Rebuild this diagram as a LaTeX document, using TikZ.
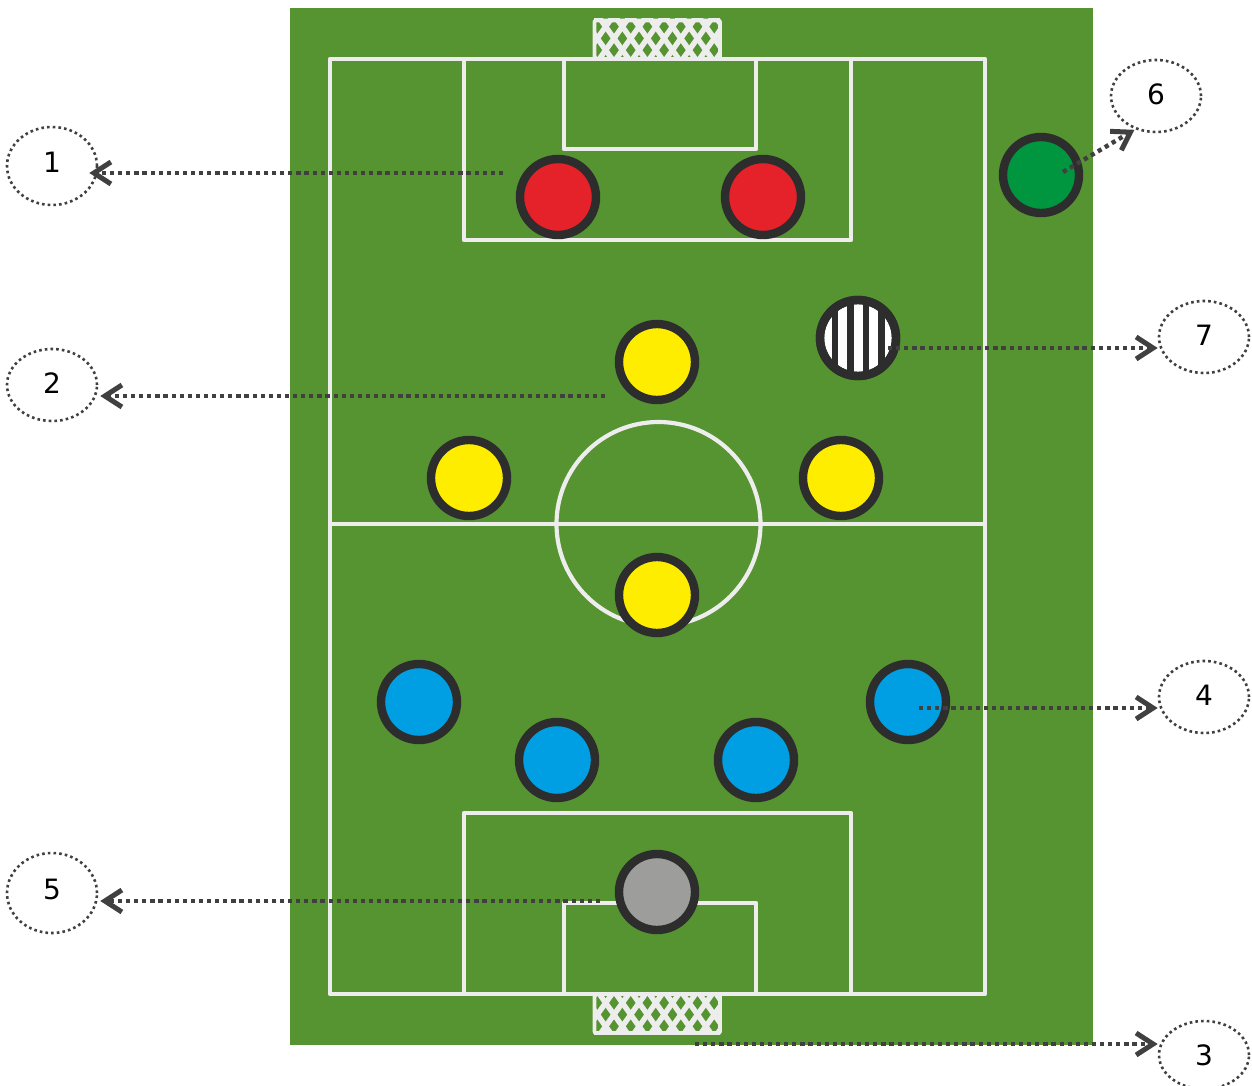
\documentclass[tikz,border=0pt]{standalone}
\usepackage{fontspec}
\setmainfont{DejaVu Sans}
\usetikzlibrary{arrows.meta,shapes.geometric}
\definecolor{fieldg}{HTML}{569331}
\definecolor{chalk}{HTML}{EDEDED}
\definecolor{ringc}{HTML}{2D2D2D}
\definecolor{arrowc}{HTML}{404040}
\definecolor{pred}{HTML}{E52129}
\definecolor{pyel}{HTML}{FFED00}
\definecolor{pblu}{HTML}{009FE3}
\definecolor{pgry}{HTML}{9D9D9C}
\definecolor{pgrn}{HTML}{009640}
\tikzset{
  chalkline/.style={draw=chalk,line width=4.2pt,line join=round},
  netline/.style={draw=chalk,line width=5.4pt},
  player/.style={circle,draw=ringc,line width=8.4pt,minimum size=76pt,inner sep=0pt},
  tag/.style={ellipse,draw=arrowc,line width=2.6pt,dash pattern=on 2.6pt off 3.1pt,minimum width=90pt,inner sep=0pt,text depth=4pt,font=\fontsize{28}{30}\selectfont,text=black},
  pointer/.style={draw=arrowc,line width=4.4pt,dash pattern=on 4.2pt off 3.9pt,-{Straight Barb[length=17pt,width=22pt,line width=5pt]}},
}
\begin{document}
\begin{tikzpicture}[x=1pt,y=-1pt]
\useasboundingbox (0,0) rectangle (1252,1086);
% pitch
\fill[fieldg] (290,8) rectangle (1093,1045);
\draw[chalkline] (330,59) rectangle (985,994);
\draw[chalkline] (464,59) rectangle (851,240);
\draw[chalkline] (564,59) rectangle (756,149);
\draw[chalkline] (464,813) rectangle (851,994);
\draw[chalkline] (564,903) rectangle (756,994);
\draw[chalkline] (330,524) -- (985,524);
\draw[chalkline] (658.5,524) circle[radius=102];
% nets
\begin{scope}
\clip (594,19) rectangle (720,58);
\foreach \k in {-5,...,12}{
  \draw[netline] (614+\k*16.7,38.4) ++(-25,-35.1) -- ++(50,70.2);
  \draw[netline] (614+\k*16.7,38.4) ++(25,-35.1) -- ++(-50,70.2);
}
\end{scope}
\draw[chalkline,line width=3.6pt,rounded corners=1pt] (594.5,58) -- (594.5,20.5) -- (720,20.5) -- (720,58);
\begin{scope}
\clip (594,995) rectangle (720,1034);
\foreach \k in {-5,...,12}{
  \draw[netline] (614+\k*16.7,1014.6) ++(-25,-35.1) -- ++(50,70.2);
  \draw[netline] (614+\k*16.7,1014.6) ++(25,-35.1) -- ++(-50,70.2);
}
\end{scope}
\draw[chalkline,line width=3.6pt,rounded corners=1pt] (594.5,994) -- (594.5,1033) -- (720,1033) -- (720,994);
% players
\node[player,fill=pred] (r1) at (558,197) {};
\node[player,fill=pred] (r2) at (763,197) {};
\node[player,fill=pyel] (y1) at (657,362) {};
\node[player,fill=pyel] (y2) at (469,478) {};
\node[player,fill=pyel] (y3) at (841,478) {};
\node[player,fill=pyel] (y4) at (657,595) {};
\node[player,fill=pblu] (b1) at (419,702) {};
\node[player,fill=pblu] (b2) at (557,760) {};
\node[player,fill=pblu] (b3) at (756,760) {};
\node[player,fill=pblu] (b4) at (908,702) {};
\node[player,fill=pgry] (g1) at (657,892) {};
\node[player,fill=pgrn] (c1) at (1041,175) {};
% referee
\node[player,fill=white] (ref) at (858,338) {};
\begin{scope}
\clip (858,338) circle[radius=40];
\foreach \bx in {835,850.5,866,881.5}{\fill[ringc] (\bx-3.2,296) rectangle (\bx+3.2,380);}
\end{scope}
\draw[ringc,line width=8.4pt] (858,338) circle[radius=38];
% tags
\node[tag,minimum height=78pt,text depth=8pt] (t1) at (52,166) {1};
\node[tag,minimum height=72pt] (t2) at (52,385) {2};
\node[tag,minimum height=68pt,text depth=0pt] (t3) at (1204,1055) {3};
\node[tag,minimum height=72pt] (t4) at (1204,697) {4};
\node[tag,minimum height=80pt,text depth=8pt] (t5) at (52,893) {5};
\node[tag,minimum height=72pt] (t6) at (1156,96) {6};
\node[tag,minimum height=72pt] (t7) at (1204,337) {7};
% pointers
\coordinate (s1) at (503,173);
\coordinate (s2) at (605,396);
\coordinate (s3) at (695,1044);
\coordinate (s4) at (919,708);
\coordinate (s5) at (600,901);
\coordinate (s6) at (1063,172);
\coordinate (s7) at (888,348);
\draw[pointer,shorten >=-9pt] (s1) -- (s1 -| t1.east);
\draw[pointer,shorten >=2pt] (s2) -- (s2 -| t2.east);
\draw[pointer,shorten >=0pt] (s3) -- (s3 -| t3.west);
\draw[pointer,shorten >=0pt] (s4) -- (s4 -| t4.west);
\draw[pointer,shorten >=2pt] (s5) -- (s5 -| t5.east);
\draw[pointer,shorten >=1pt] (s6) -- (t6.238);
\draw[pointer,shorten >=0pt] (s7) -- (s7 -| t7.west);
\end{tikzpicture}
\end{document}
